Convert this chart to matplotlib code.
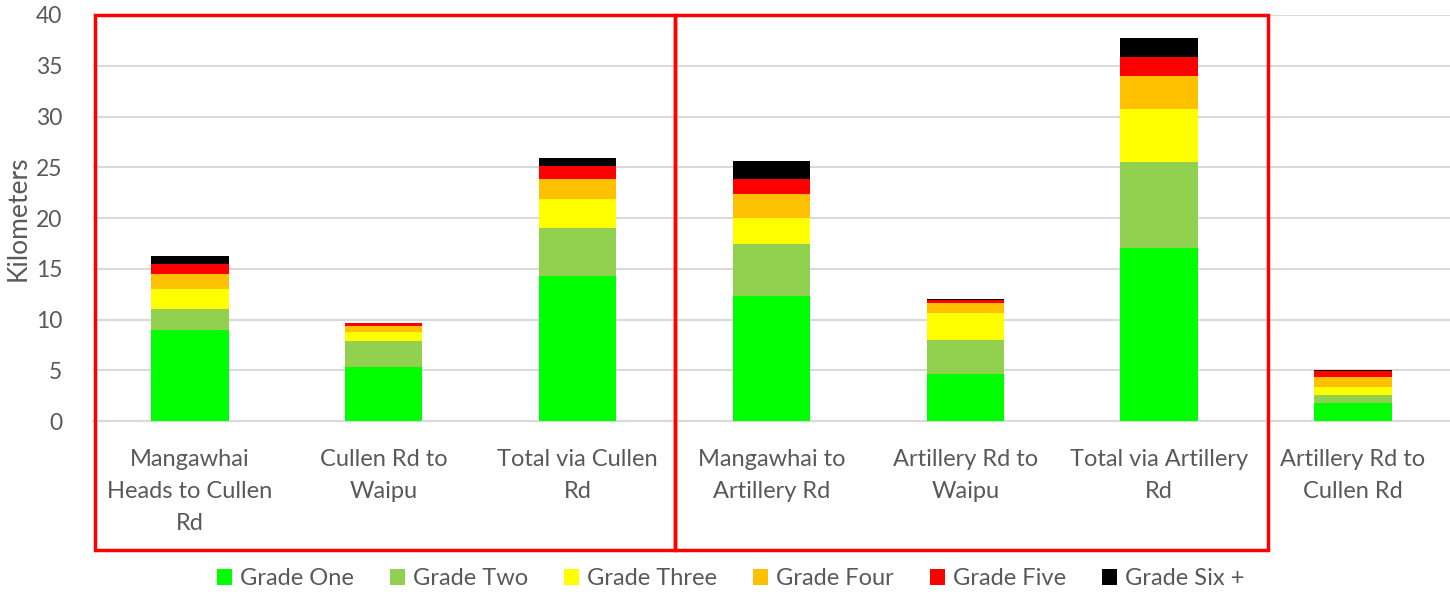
import matplotlib.pyplot as plt
import numpy as np
from matplotlib.patches import Rectangle

# Route sections (x categories)
routes = ['Mangawhai\nHeads to Cullen\nRd', 'Cullen Rd to\nWaipu', 'Total via Cullen\nRd',
          'Mangawhai to\nArtillery Rd', 'Artillery Rd to\nWaipu', 'Total via Artillery\nRd',
          'Artillery Rd to\nCullen Rd']

# km per grade
grade_one = [8.95, 5.30, 14.27, 12.30, 4.67, 17.06, 1.77]
grade_two = [2.05, 2.60, 4.70, 5.13, 3.29, 8.46, 0.76]
grade_three = [2.00, 0.83, 2.86, 2.56, 2.69, 5.23, 0.82]
grade_four = [1.50, 0.65, 2.04, 2.34, 0.99, 3.25, 0.99]
grade_five = [0.98, 0.23, 1.22, 1.47, 0.33, 1.88, 0.56]
grade_six = [0.76, 0.02, 0.85, 1.84, 0.02, 1.81, 0.10]

grades = ['Grade One', 'Grade Two', 'Grade Three', 'Grade Four', 'Grade Five', 'Grade Six +']
colours = ['#00FF00', '#92D050', '#FFFF00', '#FFC000', '#FF0000', '#000000']
series = [grade_one, grade_two, grade_three, grade_four, grade_five, grade_six]

plt.rcParams['font.family'] = ['Lato', 'DejaVu Sans']
grey = '#595959'

fig = plt.figure(figsize=(14.5, 5.95), dpi=100)
ax = fig.add_axes([0.064, 0.2924, 0.936, 0.6824])

x = np.arange(len(routes))
bottom = np.zeros(len(routes))
for vals, name, c in zip(series, grades, colours):
    ax.bar(x, vals, width=0.4, bottom=bottom, color=c, label=name, zorder=3)
    bottom += np.array(vals)

ax.set_xlim(-0.5, len(routes) - 0.5)
ax.set_ylim(0, 40)
ax.set_yticks(range(0, 41, 5))
ax.yaxis.grid(True, color='#d9d9d9', linewidth=1.5, zorder=0)
ax.set_axisbelow(True)
for s in ['top', 'right', 'left']:
    ax.spines[s].set_visible(False)
ax.spines['bottom'].set_color('#d9d9d9')
ax.spines['bottom'].set_linewidth(1.5)
ax.tick_params(axis='both', length=0, colors=grey)
ax.tick_params(axis='y', pad=22, labelsize=16.5)
ax.set_xticks(x)
ax.set_xticklabels(routes, linespacing=1.65, fontsize=17)
ax.tick_params(axis='x', pad=20)
ax.set_ylabel('Kilometers', fontsize=19, color=grey, labelpad=4)

leg = fig.legend(loc='center', bbox_to_anchor=(0.504, 0.027), ncol=6, frameon=False,
                 fontsize=17, handlelength=0.65, handleheight=0.65, handletextpad=0.35,
                 columnspacing=1.5)
for t in leg.get_texts():
    t.set_color(grey)

# red outline boxes grouping the two route options
for x0, x1 in [(95, 675), (675, 1268)]:
    fig.patches.append(Rectangle((x0 / 1450, 45 / 595), (x1 - x0) / 1450, 535 / 595,
                                 transform=fig.transFigure, fill=False,
                                 edgecolor='#FF0000', linewidth=2.5, zorder=5))

fig.savefig('out.png', dpi=100)
